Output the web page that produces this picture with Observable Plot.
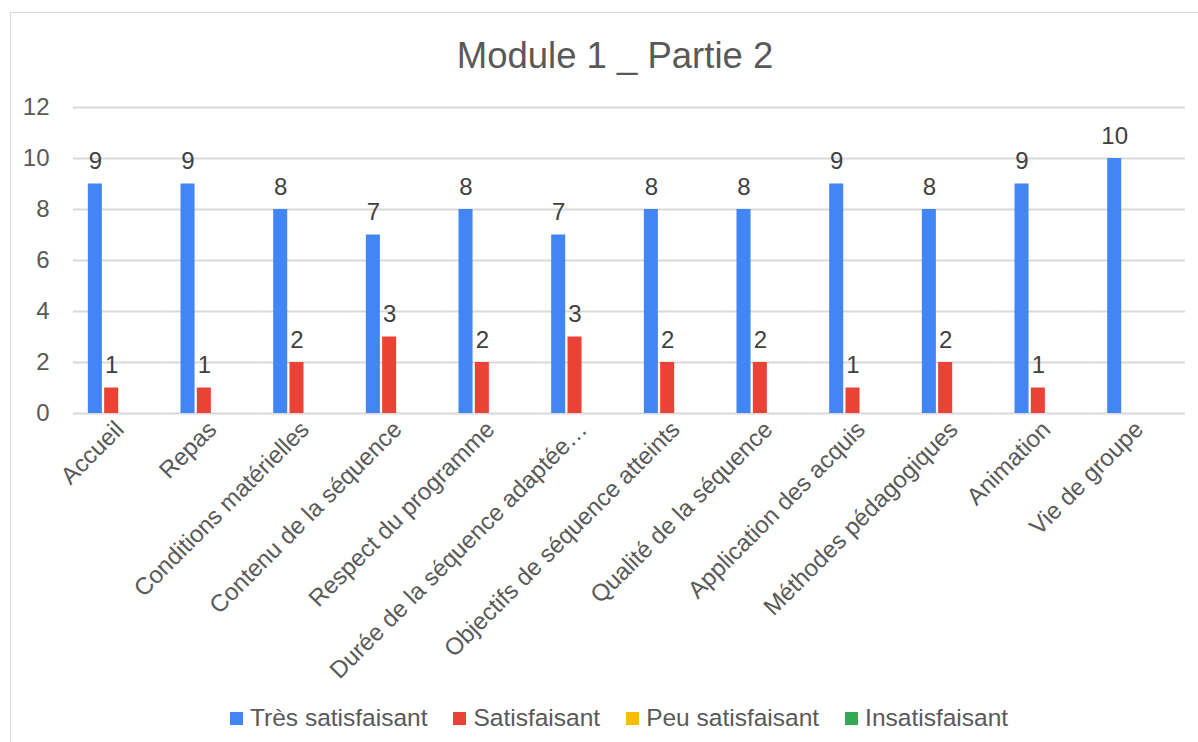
<!DOCTYPE html>
<html>
<head>
<meta charset="utf-8">
<script src="https://cdn.jsdelivr.net/npm/d3@7"></script>
<script src="https://cdn.jsdelivr.net/npm/@observablehq/plot@0.6"></script>
<style>
  html, body { margin: 0; padding: 0; background: #fff; width: 1198px; height: 742px; overflow: hidden; font-family: "Liberation Sans", Arial, sans-serif; }
  #frame { position: absolute; left: 10px; top: 12px; width: 1250px; height: 800px; border: 1.5px solid #d9d9d9; box-sizing: border-box; }
  #title { position: absolute; left: 10px; width: 1210px; top: 38px; text-align: center; font-size: 36.5px; line-height: 36px; color: #595959; }
  #chart { position: absolute; left: 0; top: 90px; }
  #legend { position: absolute; left: 230px; top: 706px; display: flex; gap: 26px; font-size: 24.5px; line-height: 24px; color: #595959; }
  .item { display: flex; align-items: center; }
  .sw { width: 13px; height: 13px; margin-right: 7px; }
</style>
</head>
<body>
<div id="frame"></div>
<div id="title">Module 1 _ Partie 2</div>
<div id="chart"></div>
<div id="legend"></div>
<script>
const categories = ["Accueil", "Repas", "Conditions matérielles", "Contenu de la séquence", "Respect du programme", "Durée de la séquence adaptée…", "Objectifs de séquence atteints", "Qualité de la séquence", "Application des acquis", "Méthodes pédagogiques", "Animation", "Vie de groupe"];
const seriesNames = ["Très satisfaisant", "Satisfaisant", "Peu satisfaisant", "Insatisfaisant"];
const seriesColors = ["#4285F4", "#EA4335", "#FBBC04", "#34A853"];
const tresSatisfaisant = [9, 9, 8, 7, 8, 7, 8, 8, 9, 8, 9, 10];
const satisfaisant = [1, 1, 2, 3, 2, 3, 2, 2, 1, 2, 1, 0];
const peuSatisfaisant = [0, 0, 0, 0, 0, 0, 0, 0, 0, 0, 0, 0];
const insatisfaisant = [0, 0, 0, 0, 0, 0, 0, 0, 0, 0, 0, 0];
const yTicks = [0, 2, 4, 6, 8, 10, 12];

const seriesValues = [tresSatisfaisant, satisfaisant, peuSatisfaisant, insatisfaisant];
const data = [];
categories.forEach((c, i) => {
  seriesNames.forEach((s, j) => {
    data.push({category: c, series: s, value: seriesValues[j][i]});
  });
});
const labeled = data.filter(d => d.value !== 0);

const chart = Plot.plot({
  width: 1198,
  height: 600,
  marginLeft: 73,
  marginRight: 13,
  marginTop: 17,
  marginBottom: 277,
  style: {fontFamily: "'Liberation Sans', Arial, sans-serif", fontSize: "23px", color: "#595959", background: "transparent"},
  fx: {domain: categories, padding: 0, round: false, label: null},
  x: {domain: seriesNames, paddingInner: 0.14, paddingOuter: 0.91, round: false, axis: null},
  y: {domain: [0, 12], axis: null},
  color: {domain: seriesNames, range: seriesColors},
  marks: [
    Plot.gridY(yTicks, {stroke: "#d9d9d9", strokeOpacity: 1, strokeWidth: 2}),
    Plot.axisY(yTicks, {tickSize: 0, tickPadding: 24, label: null, fontSize: 24}),
    Plot.axisFx({anchor: "bottom", tickRotate: -45, tickSize: 0, tickPadding: 12, label: null, fontSize: 24}),
    Plot.barY(data, {fx: "category", x: "series", y: "value", fill: "series"}),
    Plot.text(labeled, {fx: "category", x: "series", y: "value", text: d => String(d.value), lineAnchor: "bottom", dy: -15, fill: "#404040", fontSize: 24})
  ]
});
document.getElementById("chart").appendChild(chart);

const legend = document.getElementById("legend");
seriesNames.forEach((s, j) => {
  const item = document.createElement("div");
  item.className = "item";
  const sw = document.createElement("div");
  sw.className = "sw";
  sw.style.background = seriesColors[j];
  const t = document.createElement("span");
  t.textContent = s;
  item.appendChild(sw);
  item.appendChild(t);
  legend.appendChild(item);
});
</script>
</body>
</html>
